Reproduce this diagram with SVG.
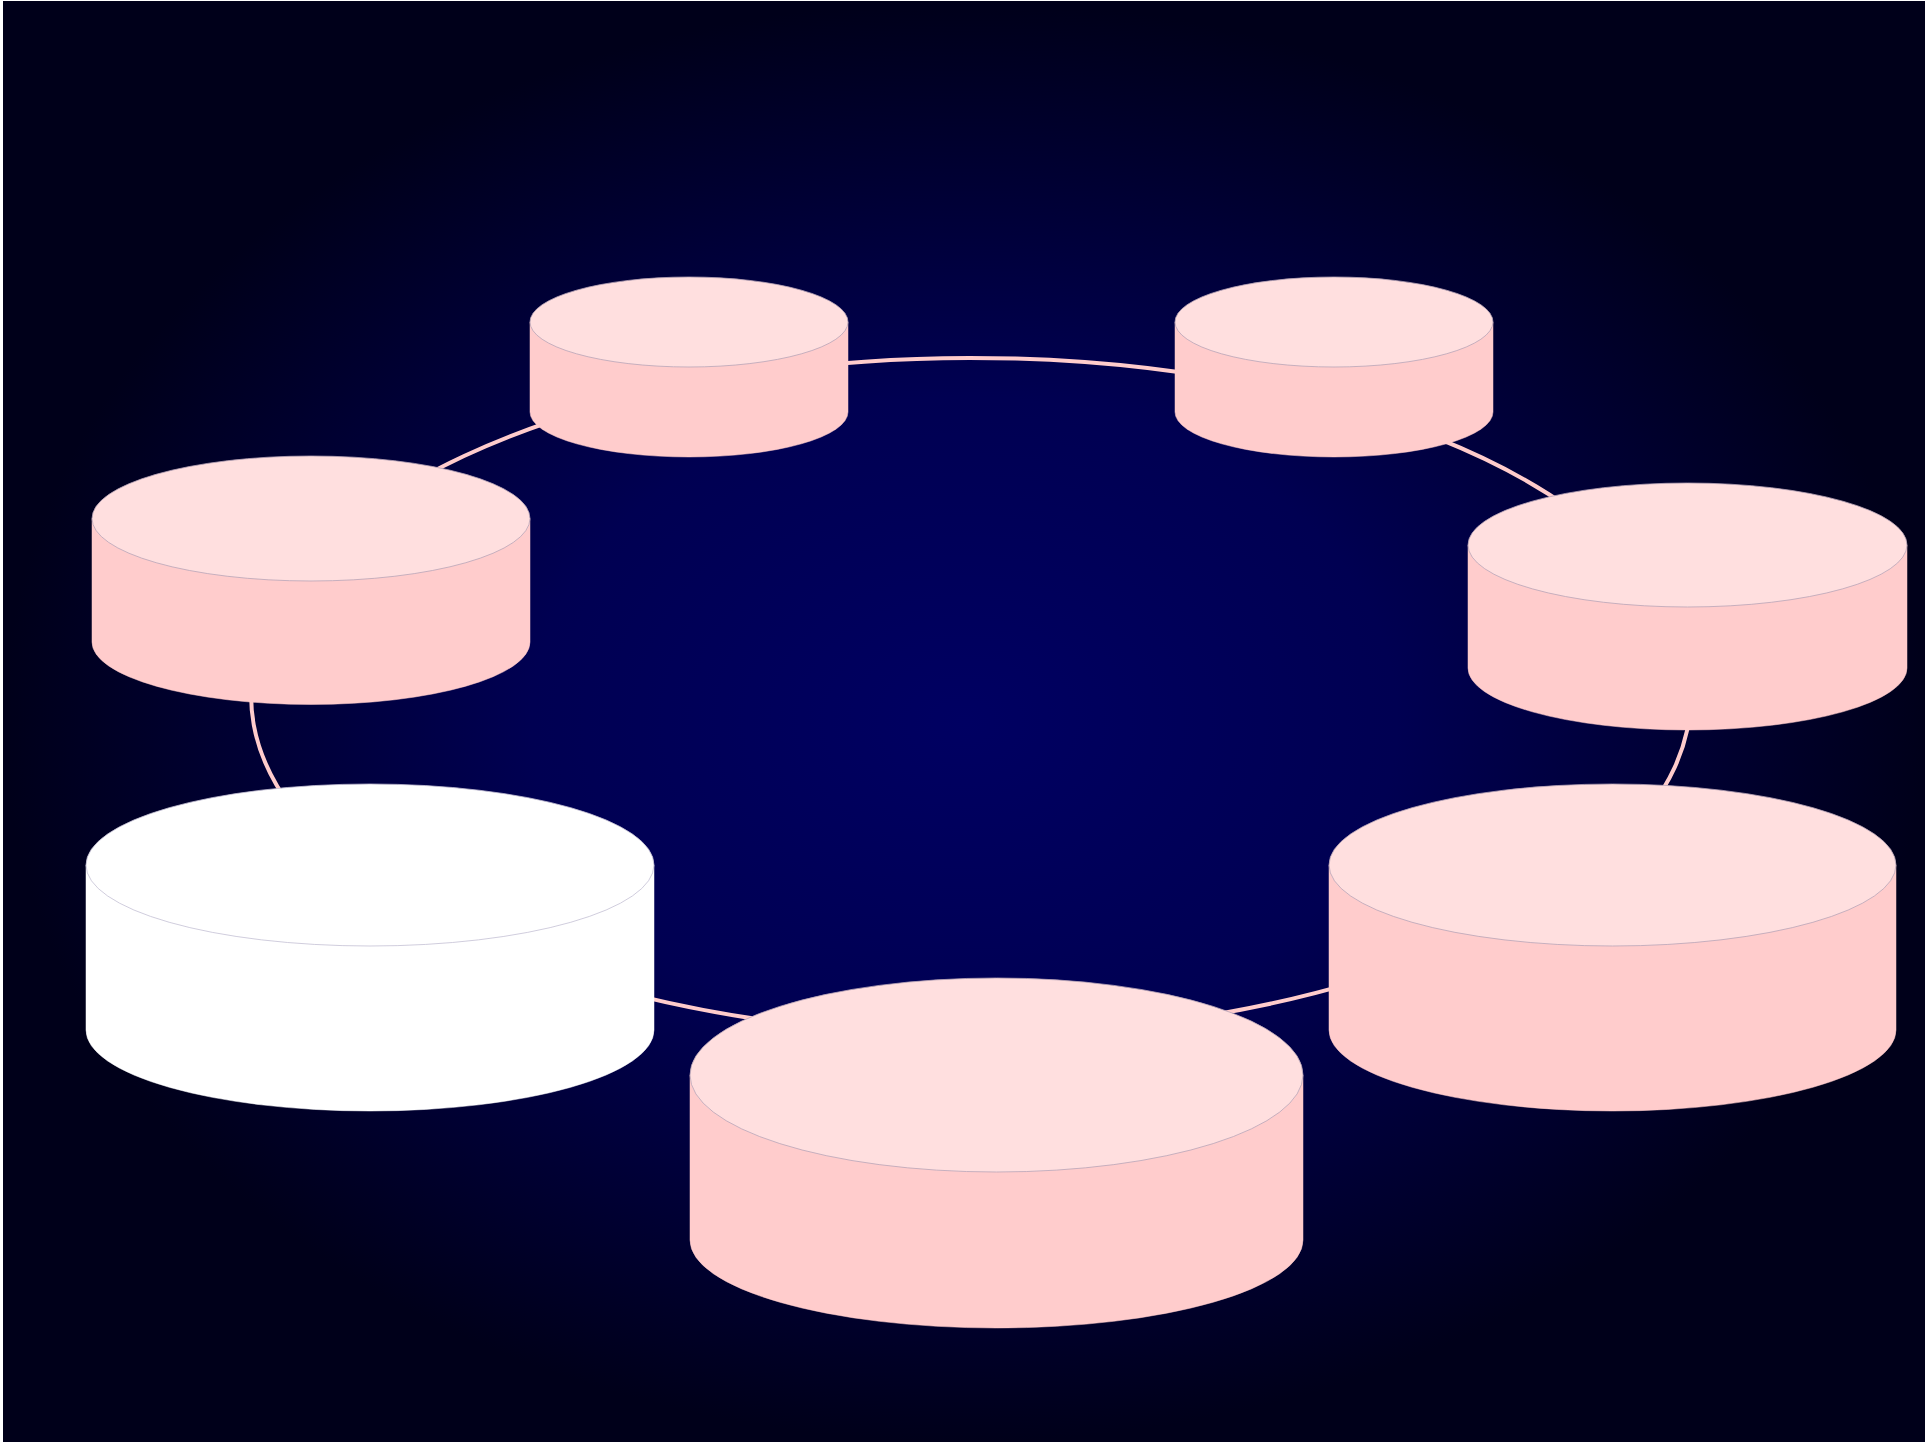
<svg xmlns="http://www.w3.org/2000/svg" width="1925" height="1442" viewBox="0 0 1925 1442">
  <defs>
    <radialGradient id="bg" cx="50%" cy="50%" r="50%">
      <stop offset="0" stop-color="#000062"/>
      <stop offset="0.45" stop-color="#000052"/>
      <stop offset="1" stop-color="#00001a"/>
    </radialGradient>
  </defs>
  <style>
    .edge { fill: none; stroke: #ffcccc; stroke-width: 4; }
    .body { fill: #ffcccc; stroke: #ffcccc; stroke-width: 0.5; }
    .top { fill: #ffdfdf; stroke: #b8a4b8; stroke-width: 0.8; }
    .sel .body { fill: #ffffff; stroke: #ffffff; }
    .sel .top { fill: #ffffff; stroke: #c4c0d4; }
  </style>
  <rect x="0" y="0" width="1925" height="1442" fill="#ffffff"/>
  <rect x="3" y="1" width="1922" height="1441" fill="url(#bg)"/>
  <g id="connectors">
    <path class="edge" d="M 311 561 A 720 338 0 0 1 689 385"/>
    <path class="edge" d="M 689 385 A 720 338 0 0 1 1334 404"/>
    <path class="edge" d="M 1334 404 A 720 338 0 0 1 1690 680"/>
    <path class="edge" d="M 1690 680 A 720 338 0 0 1 1612 850"/>
    <path class="edge" d="M 1612 850 A 720 338 0 0 1 996 1034"/>
    <path class="edge" d="M 996 1034 A 720 338 0 0 1 370 882"/>
    <path class="edge" d="M 370 882 A 720 338 0 0 1 311 561"/>
  </g>
  <g id="node1">
    <path class="body" d="M 530 322 L 530 412 A 159 45 0 0 0 848 412 L 848 322 Z"/>
    <ellipse class="top" cx="689" cy="322" rx="159" ry="45"/>
  </g>
  <g id="node2">
    <path class="body" d="M 1175 322 L 1175 412 A 159 45 0 0 0 1493 412 L 1493 322 Z"/>
    <ellipse class="top" cx="1334" cy="322" rx="159" ry="45"/>
  </g>
  <g id="node3">
    <path class="body" d="M 92 518.5 L 92 642 A 219 62.5 0 0 0 530 642 L 530 518.5 Z"/>
    <ellipse class="top" cx="311" cy="518.5" rx="219" ry="62.5"/>
  </g>
  <g id="node4">
    <path class="body" d="M 1468 545 L 1468 668 A 219.5 62 0 0 0 1907 668 L 1907 545 Z"/>
    <ellipse class="top" cx="1687.5" cy="545" rx="219.5" ry="62"/>
  </g>
  <g id="node5" class="sel">
    <path class="body" d="M 86 865 L 86 1030 A 284 81 0 0 0 654 1030 L 654 865 Z"/>
    <ellipse class="top" cx="370" cy="865" rx="284" ry="81"/>
  </g>
  <g id="node6">
    <path class="body" d="M 1329 865 L 1329 1030 A 283.5 81 0 0 0 1896 1030 L 1896 865 Z"/>
    <ellipse class="top" cx="1612.5" cy="865" rx="283.5" ry="81"/>
  </g>
  <g id="node7">
    <path class="body" d="M 690 1075 L 690 1240 A 306.5 88 0 0 0 1303 1240 L 1303 1075 Z"/>
    <ellipse class="top" cx="996.5" cy="1075" rx="306.5" ry="97"/>
  </g>
</svg>
